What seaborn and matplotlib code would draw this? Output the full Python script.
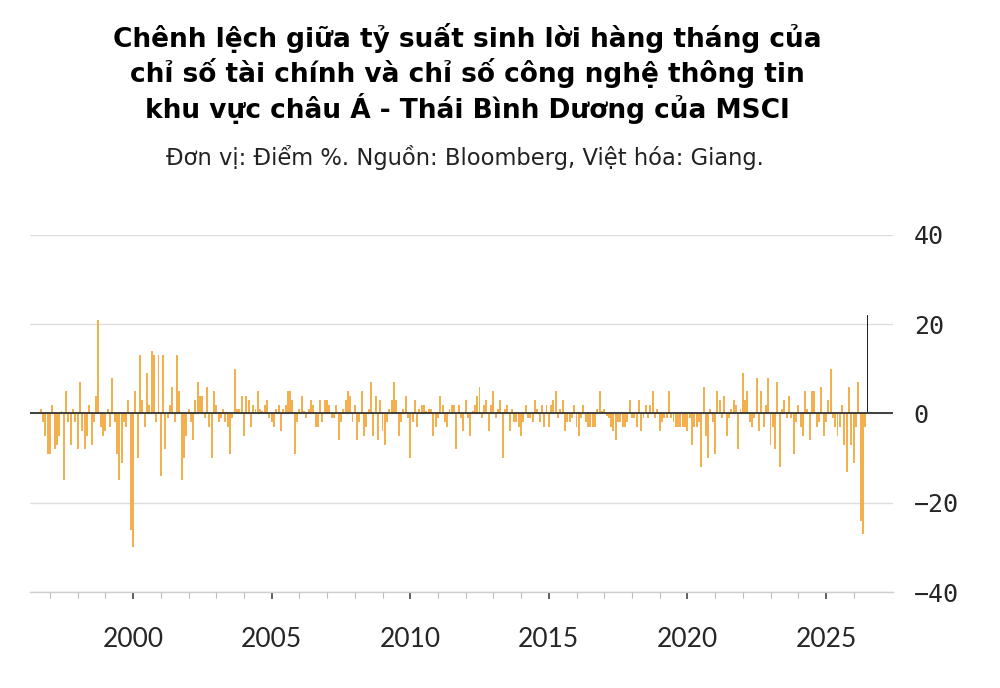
import numpy as np
import pandas as pd
import matplotlib
matplotlib.use("Agg")
import matplotlib.pyplot as plt
import seaborn as sns


# --- Textos ---
title_lines = [
    "Chênh lệch giữa tỷ suất sinh lời hàng tháng của",
    "chỉ số tài chính và chỉ số công nghệ thông tin",
    "khu vực châu Á - Thái Bình Dương của MSCI",
]
subtitle = "Đơn vị: Điểm %. Nguồn: Bloomberg, Việt hóa: Giang."

# --- Datos (diferencia mensual en puntos %) ---
first_month = "1996-09-01"
spread = [
    1, -2, -5, -9, -9, 2, -8, -7, -5, 0.5, -15, 5,
    -2, -7, 1, -2, -8, 7, -4, -8, -5, 2, -7, -2,
    4, 21, -3, -5, -4, 1, -3, 8, -2, -9, -15, -11,
    -2, -3, 3, -26, -30, 5, -10, 13, 3, -3, 9, 2,
    14, 13, -2, 13, -14, 13, -8, -1, 2, 6, -2, 13,
    5, -15, -10, -5, 1, -2, -6, 3, 7, 4, 4, -1,
    6, -3, -10, 5, 2, -2, -1, 1, -2, -3, -9, -1,
    10, 1, 1, 4, -5, 4, 3, -3, 2, 1, 5, 1,
    0.5, 2, 3, -1, -2, -3, 1, 2, -4, 1, 2, 5,
    5, 3, -9, -2, 1, 4, 0.5, -1, 1, 3, 2, -3,
    -3, 3, -2,
    3, 3, 2, -1, -1, 2, -6, -2, 1, 3, 5, 4,
    -2, 2, -6, -2, 5, -5, -3, 1, 7, -5, 4, -6,
    3, -4, -7, -2, 1, 3, 7, 3, -5, -2, 1, 4,
    -1, -10, -2, 3, -3, 1, 2, 2, 0.5, 1, 1, -5,
    -3, -1, 4, 2, -2, -3, 1, 2, 2, -8, 2, -1,
    -4, 3, -1,
    -5, 0.5, 2, 4, 6, -1, 2, 3, -4, 2, 5, -1,
    1, 3, -10, 1, 2, -4, 1, -2, -2, -3, -5, -2,
    2, -1, -1, -2, 3, 1, -2, 2, -3, 2, -3, 2,
    3, 5, -1, 1, 3, -4, -2, -2, -1, 2, -3, -5,
    -1, 2, -2, -3, -3, -3, -3, 1, 5, 0.5, 1, -0.5,
    -1, -3, -4,
    -6, -2, -2, -3, -3, -2, 3, -1, -1, -3, 3, -4,
    -1, 2, -1, 2, 5, -1, 1, -4, -2, -1, -1, 5,
    -1, -2, -3, -3, -3, -3, -3, -4, -1, -7, -3, -3,
    -2, -12, 6, -5, -10, 1, -2, -9, 5, 3, -1, 4,
    -5, -1, 1, 3, 2, -8, 1, 9, 3, 5, -2, -3,
    -1, 8, -4,
    5, -3, 2, 8, -7, -3, -8, 7, -12, 1, 3, -1,
    4, -1, -9, -2, 2, -3, -5, 5, 1, -6, 5, 5,
    -3, -2, 6, -5, -2, 3, 10, -1, -3, -5, -3, 2,
    -7, -13, 6, -7, -11, -3, 7, -24, -27, -3, 22,
]
y_ticks = [-40, -20, 0, 20, 40]
x_major = [2000, 2005, 2010, 2015, 2020, 2025]

months = pd.date_range(first_month, periods=len(spread), freq="MS")
df = pd.DataFrame({
    "t": np.round(months.year + (months.month - 1) / 12, 4),
    "spread": spread,
    "kind": ["past"] * (len(spread) - 1) + ["latest"],
})

# --- Gráfico ---
sns.set_theme(style="white")
plt.rcParams["font.family"] = ["DejaVu Sans"]

fig = plt.figure(figsize=(10, 6.88), dpi=100)
ax = fig.add_axes([0.03, 0.1395, 0.863, 0.519])

sns.barplot(
    data=df, x="t", y="spread", hue="kind",
    palette={"past": "#f4b04f", "latest": "#222222"},
    native_scale=True, dodge=False, legend=False, saturation=1,
    width=0.85, errorbar=None, linewidth=0, ax=ax,
)

ax.set_xlim(1996.28, 2027.42)
ax.set_ylim(-40, 40)
ax.set_xlabel("")
ax.set_ylabel("")

ax.yaxis.tick_right()
ax.set_yticks(y_ticks)
ax.set_yticklabels([f"{v}".replace("-", "\u2212") for v in y_ticks],
                   family="DejaVu Sans Mono", fontsize=18)
ax.tick_params(axis="y", length=0, pad=15)
ax.grid(axis="y", color="#dddddd", linewidth=1)
ax.set_axisbelow(True)
ax.axhline(0, color="#333333", linewidth=1.3, zorder=3)

ax.set_xticks(x_major)
ax.set_xticks(range(1997, 2027), minor=True)
ax.set_xticklabels([str(y) for y in x_major], family="Lato", fontsize=19)
ax.tick_params(axis="x", which="major", length=5, width=1.2, color="#444444", pad=20, bottom=True)
ax.tick_params(axis="x", which="minor", length=4, width=0.8, color="#bbbbbb", bottom=True)

for side in ["top", "right", "left"]:
    ax.spines[side].set_visible(False)
ax.spines["bottom"].set_color("#cfcfcf")
ax.spines["bottom"].set_linewidth(1)

for k, line in enumerate(title_lines):
    fig.text(0.467, 1 - (38 + 35 * k) / 688, line, ha="center", va="center",
             fontsize=19, fontweight="bold", color="black")
fig.text(0.465, 1 - 157 / 688, subtitle, ha="center", va="center",
         fontsize=16.3, color="#222222")

fig.savefig("out.png", dpi=100)
